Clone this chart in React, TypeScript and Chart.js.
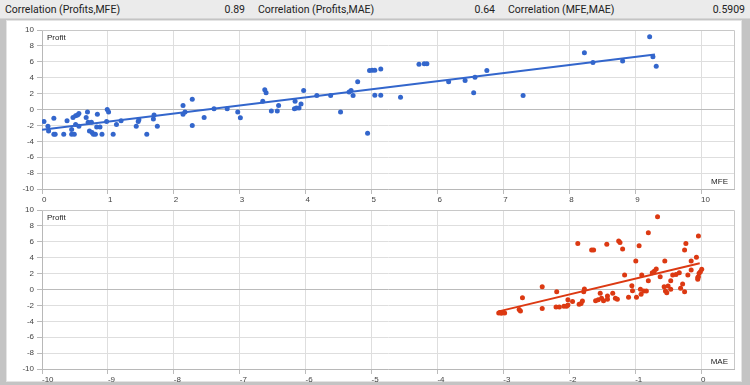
import React, { useEffect, useRef } from "react";
import { Chart, registerables } from "chart.js";

Chart.register(...registerables);

// ---- header data ----
const corrLabels = ["Correlation (Profits,MFE)", "Correlation (Profits,MAE)", "Correlation (MFE,MAE)"];
const corrValues = ["0.89", "0.64", "0.5909"];

// ---- top chart: Profit vs MFE ----
const mfeValues = [
  0.03, 0.09, 0.10, 0.18, 0.18, 0.20, 0.33, 0.38, 0.45, 0.45, 0.49, 0.47, 0.51, 0.54, 0.56, 0.51, 0.56,
  0.69, 0.67, 0.70, 0.75, 0.72, 0.76, 0.78, 0.81, 0.84, 0.83, 0.88, 0.91, 0.99, 1.01, 0.98, 1.08, 1.13,
  1.20, 1.43, 1.46, 1.47, 1.59, 1.69, 1.70, 1.75, 2.14, 2.17, 2.14, 2.28, 2.28, 2.46, 2.61, 2.81, 2.97,
  3.01, 3.35, 3.38, 3.40, 3.48, 3.57, 3.59, 3.84, 3.83, 3.86, 3.90, 3.93, 3.97, 4.17, 4.38, 4.53, 4.66,
  4.69, 4.72, 4.79, 4.94, 4.97, 5.01, 5.05, 5.05, 5.14, 5.14, 5.44, 5.72, 5.80, 5.84, 6.17, 6.42, 6.55,
  6.57, 6.75, 7.30, 8.23, 8.36, 8.81, 9.22, 9.27, 9.32,
];
const mfeProfits = [
  -1.5, -2.1, -2.7, -1.1, -3.1, -3.1, -3.1, -1.4, -2.5, -3.1, -3.1, -1.0, -0.8, -0.7, -0.5, -1.9, -2.1,
  -0.3, -1.0, -1.6, -1.6, -2.7, -2.9, -3.1, -3.1, -0.6, -2.2, -2.2, -3.1, 0.0, -0.3, -1.5, -3.1, -1.9,
  -1.4, -2.1, -1.5, -1.3, -3.1, -1.2, -0.7, -2.1, 0.5, -0.3, -0.6, 1.3, -2.0, -1.0, 0.1, 0.1, -0.3,
  -1.05, 1.05, 2.5, 2.1, -0.2, -0.2, 0.5, 1.05, 0.1, 0.2, 0.2, 0.7, 2.4, 1.75, 1.75, -0.3, 2.2,
  2.4, 1.75, 3.5, -3.0, 4.9, 4.95, 4.95, 1.8, 5.1, 1.8, 1.55, 5.7, 5.75, 5.75, 3.5, 3.65, 2.1,
  4.05, 4.9, 1.75, 7.15, 5.9, 6.1, 9.15, 6.65, 5.45,
];
const mfeTrendX = [0.0, 9.3];
const mfeTrendY = [-2.55, 6.93];

// ---- bottom chart: Profit vs MAE ----
const maeValues = [
  -3.07, -3.05, -3.03, -3.0, -2.98, -2.76, -2.74, -2.71, -2.41, -2.41, -2.19, -2.2, -2.15, -2.08, -2.04,
  -2.02, -2.02, -1.95, -1.87, -1.85, -1.82, -1.8, -1.78, -1.77, -1.66, -1.63, -1.6, -1.56, -1.53, -1.51,
  -1.48, -1.43, -1.42, -1.42, -1.34, -1.3, -1.27, -1.25, -1.23, -1.19, -1.16, -1.1, -1.05, -1.04, -0.99,
  -0.98, -0.94, -0.92, -0.9, -0.91, -0.87, -0.83, -0.8, -0.8, -0.74, -0.71, -0.68, -0.66, -0.62, -0.56,
  -0.55, -0.54, -0.52, -0.5, -0.46, -0.46, -0.43, -0.38, -0.33, -0.31, -0.28, -0.25, -0.25, -0.23, -0.2,
  -0.15, -0.15, -0.07, -0.04, -0.05, -0.05, -0.04, -0.03, -0.01, 0.01,
];
const maeProfits = [
  -2.95, -2.9, -3.0, -2.9, -2.95, -2.5, -2.7, -1.03, 0.35, -2.4, -0.28, -2.2, -2.2, -2.1, -2.1,
  -1.95, -1.3, -1.5, 5.8, -1.85, -1.75, -1.45, -0.27, 0.06, 4.97, 4.97, -1.4, -1.3, -0.48, -1.1,
  -1.4, 5.7, -0.82, -1.23, -0.48, -1.1, -1.23, 6.1, 5.9, 5.1, 1.82, -0.98, 0.48, -0.15, 3.58,
  -0.98, 5.5, 0.02, 1.82, -0.6, -0.19, -0.19, 1.1, 7.15, 2.1, 2.3, 2.58, 9.15, 1.6, 0.35,
  3.58, -0.19, -0.4, 0.44, 0.02, 1.1, 1.82, 1.9, 2.1, 0.15, 0.7, -0.27, 4.97, 5.8, 1.82,
  3.58, 2.45, 4.05, 6.73, 1.28, 1.5, 1.6, 2.04, 2.24, 2.54,
];
const maeTrendX = [-3.07, -0.02];
const maeTrendY = [-2.75, 3.3];

const FONT = "'Liberation Sans', Arial, sans-serif";

const framePlugin = {
  id: "frameAndCorners",
  beforeDatasetsDraw(chart: any) {
    const { ctx, chartArea } = chart;
    ctx.save();
    ctx.strokeStyle = "#c8c8c8";
    ctx.lineWidth = 1;
    ctx.beginPath();
    ctx.moveTo(chartArea.left, Math.round(chartArea.top) + 0.5);
    ctx.lineTo(Math.round(chartArea.right) + 0.5, Math.round(chartArea.top) + 0.5);
    ctx.lineTo(Math.round(chartArea.right) + 0.5, chartArea.bottom);
    ctx.stroke();
    ctx.restore();
  },
  afterDraw(chart: any) {
    const { ctx, chartArea } = chart;
    const opts = chart.options.plugins.frameAndCorners || {};
    ctx.save();
    ctx.fillStyle = "#222";
    ctx.font = `8px ${FONT}`;
    ctx.textBaseline = "top";
    ctx.textAlign = "left";
    ctx.fillText(opts.yTitle || "", chartArea.left + 5, chartArea.top + 4);
    ctx.textBaseline = "alphabetic";
    ctx.textAlign = "right";
    ctx.fillText(opts.xTitle || "", chartArea.right - 6, chartArea.bottom - 5);
    ctx.restore();
  },
};

function makeConfig(
  xs: number[],
  ys: number[],
  tx: number[],
  ty: number[],
  color: string,
  xMin: number,
  xMax: number,
  xTitle: string
): any {
  const points = xs.map((x, i) => ({ x, y: ys[i] }));
  const trend = tx.map((x, i) => ({ x, y: ty[i] }));
  const gridLight = "#dedede";
  return {
    type: "scatter",
    data: {
      datasets: [
        {
          data: trend,
          showLine: true,
          borderColor: color,
          borderWidth: 2,
          pointRadius: 0,
          pointHoverRadius: 0,
          order: 0,
        },
        {
          data: points,
          backgroundColor: color,
          borderColor: color,
          pointRadius: 2.5,
          pointBorderWidth: 0,
          order: 1,
        },
      ],
    },
    options: {
      animation: false,
      responsive: false,
      events: [],
      layout: { padding: { top: 10, right: 8, left: 0, bottom: 0 } },
      plugins: {
        legend: { display: false },
        tooltip: { enabled: false },
        frameAndCorners: { yTitle: "Profit", xTitle },
      },
      scales: {
        x: {
          type: "linear",
          min: xMin,
          max: xMax,
          afterFit: (s: any) => {
            s.height = 16;
          },
          ticks: {
            stepSize: 1,
            includeBounds: false,
            align: "start",
            maxRotation: 0,
            autoSkip: false,
            color: "#444",
            padding: 1,
            font: { family: FONT, size: 8 },
          },
          grid: { color: gridLight, tickLength: 5, tickColor: "#bbb", lineWidth: 1 },
          border: { color: "#b8b8b8", width: 1 },
        },
        y: {
          type: "linear",
          min: -10,
          max: 10,
          afterFit: (s: any) => {
            s.width = 36;
          },
          ticks: {
            stepSize: 2,
            color: "#444",
            padding: 3,
            font: { family: FONT, size: 8 },
          },
          grid: {
            color: (c: any) => (c.tick && c.tick.value === 0 ? "#bbbbbb" : gridLight),
            tickLength: 5,
            tickColor: "#bbb",
            lineWidth: 1,
          },
          border: { color: "#b8b8b8", width: 1 },
        },
      },
    },
    plugins: [framePlugin],
  };
}

export default function App() {
  const topRef = useRef<HTMLCanvasElement>(null);
  const botRef = useRef<HTMLCanvasElement>(null);

  useEffect(() => {
    const c1 = new Chart(
      topRef.current as HTMLCanvasElement,
      makeConfig(mfeValues, mfeProfits, mfeTrendX, mfeTrendY, "#3366cc", 0, 10.5, "MFE")
    );
    const c2 = new Chart(
      botRef.current as HTMLCanvasElement,
      makeConfig(maeValues, maeProfits, maeTrendX, maeTrendY, "#dc3912", -10, 0.5, "MAE")
    );
    return () => {
      c1.destroy();
      c2.destroy();
    };
  }, []);

  return (
    <div
      style={{
        position: "fixed",
        left: 0,
        top: 0,
        width: 750,
        height: 385,
        background: "#c4c4c4",
        overflow: "hidden",
      }}
    >
      <div
        style={{
          position: "absolute",
          left: 0,
          top: 0,
          width: 750,
          height: 18,
          background: "#ebebeb",
          borderBottom: "1px solid #d6d6d6",
          display: "flex",
        }}
      >
        {corrLabels.map((label, i) => (
          <div
            key={i}
            style={{
              width: 250,
              boxSizing: "border-box",
              padding: i === 0 ? "0 5px 0 5px" : "0 5px 0 8px",
              display: "flex",
              justifyContent: "space-between",
              alignItems: "center",
              fontFamily: "Roboto, 'Liberation Sans', sans-serif",
              fontSize: 10.5,
              color: "#222",
              whiteSpace: "nowrap",
            }}
          >
            <span>{label}</span>
            <span>{corrValues[i]}</span>
          </div>
        ))}
      </div>
      <div
        style={{
          position: "absolute",
          left: 6,
          top: 20,
          width: 736,
          height: 362,
          background: "#ffffff",
          boxShadow: "inset 0 0 0 1px #e4e4e4",
        }}
      />
      <div style={{ position: "absolute", left: 6, top: 20, width: 736, height: 185 }}>
        <canvas ref={topRef} width={736} height={185} style={{ width: 736, height: 185, display: "block" }} />
      </div>
      <div style={{ position: "absolute", left: 6, top: 200, width: 736, height: 185 }}>
        <canvas ref={botRef} width={736} height={185} style={{ width: 736, height: 185, display: "block" }} />
      </div>
    </div>
  );
}
